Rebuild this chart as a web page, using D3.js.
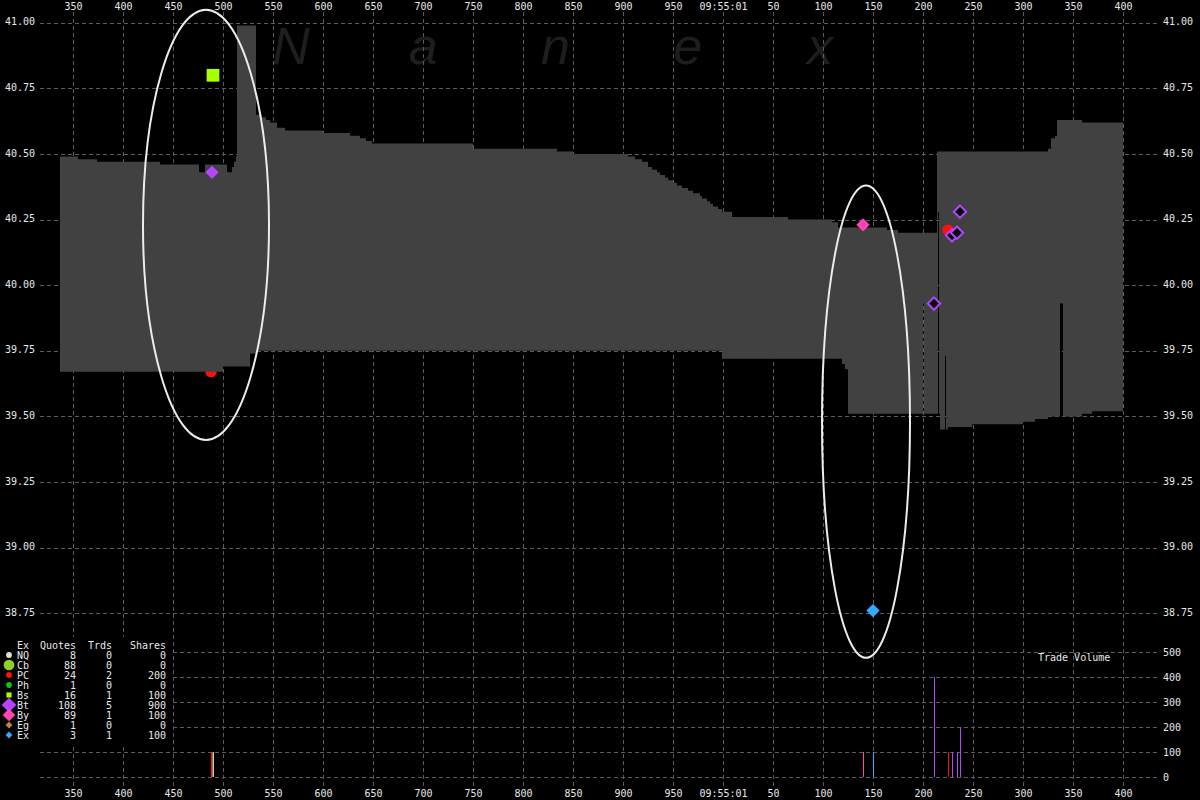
<!DOCTYPE html>
<html><head><meta charset="utf-8">
<script src="https://cdn.jsdelivr.net/npm/d3@7"></script>
<style>html,body{margin:0;padding:0;background:#000;}svg{display:block;}</style>
</head><body>
<svg id="chart" width="1200" height="800"></svg>
<script>
// ---- data (times are ms after 09:55:00.000) ----
const quoteT   = [337,355,374,437,476,482,500,504,509,511,513,514,527,533,534,539,543,547,554,562,600,627,637,643,649,750,834,850,905,912,919,925,929,934,937,942,945,950,954,959,965,970,977,979,984,987,990,995,999,1009,1065,1109,1115,1119,1122,1125,1164,1175,1200,1201,1214,1215,1216,1217,1222,1223,1225,1249,1300,1312,1325,1328,1332,1334,1337,1340,1359,1369,1400];
const quoteBid = [39.67,39.67,39.67,39.67,39.67,39.67,39.69,39.69,39.69,39.69,39.69,39.69,39.74,39.74,39.75,39.75,39.75,39.75,39.75,39.75,39.75,39.75,39.75,39.75,39.75,39.75,39.75,39.75,39.75,39.75,39.75,39.75,39.75,39.75,39.75,39.75,39.75,39.75,39.75,39.75,39.75,39.75,39.75,39.75,39.75,39.75,39.75,39.75,39.72,39.72,39.72,39.72,39.72,39.70,39.68,39.51,39.51,39.51,39.93,39.51,39.51,40.28,39.51,39.45,39.73,39.45,39.46,39.47,39.48,39.49,39.50,39.50,39.50,39.50,39.93,39.50,39.51,39.52,39.52];
const quoteAsk = [40.49,40.48,40.47,40.46,40.43,40.46,40.46,40.43,40.45,40.47,40.49,40.99,40.99,40.65,40.65,40.64,40.63,40.62,40.60,40.59,40.58,40.57,40.56,40.55,40.54,40.52,40.51,40.50,40.49,40.48,40.47,40.45,40.44,40.43,40.42,40.41,40.40,40.39,40.38,40.37,40.36,40.35,40.34,40.33,40.32,40.31,40.30,40.29,40.28,40.26,40.25,40.24,40.22,40.22,40.22,40.22,40.21,40.20,40.20,40.20,40.51,40.51,40.51,40.51,40.51,40.51,40.51,40.51,40.51,40.51,40.52,40.56,40.57,40.63,40.63,40.63,40.62,40.62,40.62];

const tradeEx    = ["PC","Bt","Bs","By","Ex","Bt","PC","Bt","Bt","Bt"];
const tradeT     = [488,489,490,1140,1150,1211,1225,1229,1234,1237];
const tradePrice = [39.67,40.43,40.80,40.23,38.76,39.93,40.21,40.19,40.20,40.28];
const tradeSize  = [100,100,100,100,100,400,100,100,100,200];
const tradeCond  = ["","","","","","ISO","","ISO","ISO","ISO"];

const legendEx     = ["NQ","Cb","PC","Ph","Bs","Bt","By","Eg","Ex"];
const legendQuotes = [8,88,24,1,16,108,89,1,3];
const legendTrds   = [0,0,2,0,1,5,1,0,1];
const legendShares = [0,0,200,0,100,900,100,0,100];

const timeTicks   = d3.range(350, 1401, 50);
const priceTicks  = [41.00,40.75,40.50,40.25,40.00,39.75,39.50,39.25,39.00,38.75];
const volumeTicks = [0,100,200,300,400,500];

// annotation ellipses (time centre, half width in ms, top/bottom price)
const ringT      = [483, 1143];
const ringHalfMs = [63, 44];
const ringTop    = [41.05, 40.38];
const ringBottom = [39.41, 38.58];

const watermark = "Nanex";

// ---- styles ----
const exColor = {NQ:"#e0e0e0",Cb:"#90d020",PC:"#ff1010",Ph:"#10c010",Bs:"#a8ff00",Bt:"#b444ff",By:"#ff44b4",Eg:"#c08a30",Ex:"#33aaff"};
const exShape = {NQ:"circle",Cb:"circle",PC:"circle",Ph:"circle",Bs:"square",Bt:"diamond",By:"diamond",Eg:"diamond",Ex:"diamond"};
const FONT = "'DejaVu Sans Mono', monospace";
const TXT = "#e8e8e8";
const GRID = "#5c5c5c";

function markerPath(shape, s){
  const p = d3.path();
  if(shape==="circle"){ const r=s*0.85; p.arc(0,0,r,0,Math.PI*2); }
  else if(shape==="square"){ const h=s*0.95; p.rect(-h,-h,2*h,2*h); }
  else { p.moveTo(0,-s); p.lineTo(s,0); p.lineTo(0,s); p.lineTo(-s,0); p.closePath(); }
  return p.toString();
}

const svg = d3.select("#chart");
svg.append("rect").attr("width",1200).attr("height",800).attr("fill","#000");

const x  = d3.scaleLinear().domain([317,1437]).range([40,1160]);
const y  = d3.scaleLinear().domain([38.75,41]).range([613.2,22.8]);
const yv = d3.scaleLinear().domain([0,500]).range([777,652]);

// watermark
const wm = d3.scalePoint().domain(d3.range(watermark.length)).range([291,820]);
svg.append("g").selectAll("text").data(watermark.split("")).join("text")
  .attr("x",(d,i)=>wm(i)).attr("y",64).attr("text-anchor","middle")
  .attr("font-family","'Liberation Sans', Arial, sans-serif").attr("font-style","italic")
  .attr("font-size",52).attr("fill","#1e1e1e").text(d=>d);

// gridlines
const grid = svg.append("g").attr("stroke",GRID).attr("stroke-width",1).attr("stroke-dasharray","4,3");
grid.selectAll("line.h").data(priceTicks).join("line").attr("class","h")
  .attr("x1",40).attr("x2",1160).attr("y1",d=>Math.round(y(d))+0.5).attr("y2",d=>Math.round(y(d))+0.5);
grid.selectAll("line.v").data(volumeTicks).join("line").attr("class","v")
  .attr("x1",40).attr("x2",1160).attr("y1",d=>Math.round(yv(d))+0.5).attr("y2",d=>Math.round(yv(d))+0.5);
grid.selectAll("line.t").data(timeTicks).join("line").attr("class","t")
  .attr("x1",d=>Math.round(x(d))+0.5).attr("x2",d=>Math.round(x(d))+0.5).attr("y1",12).attr("y2",786);

// quotes
const quotes = quoteT.map((t,i)=>({t, bid:quoteBid[i], ask:quoteAsk[i]}));
const trades = tradeT.map((t,i)=>({t, ex:tradeEx[i], price:tradePrice[i], size:tradeSize[i], cond:tradeCond[i]}));
const bis = d3.bisector(d=>d.t).right;
const bidAt = t => quotes[Math.max(0,bis(quotes,t)-1)].bid;
const behind = trades.filter(d=>d.price<=bidAt(d.t));
const front  = trades.filter(d=>d.price> bidAt(d.t));

function drawTrades(g, data){
  g.selectAll("path").data(data).join("path")
    .attr("transform",d=>`translate(${x(d.t)},${y(d.price)})`)
    .attr("d",d=>markerPath(exShape[d.ex], d.cond==="ISO"?6.2:6.7))
    .attr("fill",d=>d.cond==="ISO"?"#000":exColor[d.ex])
    .attr("stroke",d=>d.cond==="ISO"?exColor[d.ex]:"none")
    .attr("stroke-width",2);
}
drawTrades(svg.append("g"), behind);

const area = d3.area().x(d=>x(d.t)).y0(d=>y(d.bid)).y1(d=>y(d.ask)).curve(d3.curveStepAfter);
svg.append("path").datum(quotes).attr("d",area).attr("fill","#414141");

// ellipses
svg.append("g").selectAll("ellipse").data(ringT).join("ellipse")
  .attr("cx",d=>x(d)).attr("rx",(d,i)=>x(d+ringHalfMs[i])-x(d))
  .attr("cy",(d,i)=>(y(ringTop[i])+y(ringBottom[i]))/2)
  .attr("ry",(d,i)=>(y(ringBottom[i])-y(ringTop[i]))/2)
  .attr("fill","none").attr("stroke","#ececec").attr("stroke-width",2);

drawTrades(svg.append("g"), front);

// volume bars
svg.append("g").selectAll("rect").data(trades).join("rect")
  .attr("x",d=>Math.round(x(d.t))).attr("width",1)
  .attr("y",d=>yv(d.size)).attr("height",d=>yv(0)-yv(d.size))
  .attr("fill",d=>exColor[d.ex]);

// axes
const fmtT = d => d===1000 ? "09:55:01" : String(d%1000);
function styleAxis(g){
  g.select(".domain").remove();
  g.selectAll("text").attr("fill",TXT).attr("font-family",FONT).attr("font-size",10);
}
svg.append("g").attr("transform","translate(0,10)")
  .call(d3.axisTop(x).tickValues(timeTicks).tickFormat(fmtT).tickSize(0).tickPadding(0)).call(styleAxis);
svg.append("g").attr("transform","translate(0,786)")
  .call(d3.axisBottom(x).tickValues(timeTicks).tickFormat(fmtT).tickSize(0).tickPadding(4)).call(styleAxis);
svg.append("g").attr("transform","translate(40,0)")
  .call(d3.axisLeft(y).tickValues(priceTicks).tickFormat(d3.format(".2f")).tickSize(0).tickPadding(5)).call(styleAxis)
  .selectAll("text").attr("dy","0.2em");
svg.append("g").attr("transform","translate(1160,0)")
  .call(d3.axisRight(y).tickValues(priceTicks).tickFormat(d3.format(".2f")).tickSize(0).tickPadding(3)).call(styleAxis)
  .selectAll("text").attr("dy","0.2em");
svg.append("g").attr("transform","translate(1160,0)")
  .call(d3.axisRight(yv).tickValues(volumeTicks).tickSize(0).tickPadding(3)).call(styleAxis)
  .selectAll("text").attr("dy","0.3em");

svg.append("text").attr("x",1038).attr("y",661).attr("fill",TXT)
  .attr("font-family",FONT).attr("font-size",10).text("Trade Volume");

// legend
const lg = svg.append("g");
lg.append("rect").attr("x",0).attr("y",637).attr("width",172).attr("height",108).attr("fill","#000");
const rowY = d3.scalePoint().domain(d3.range(-1, legendEx.length)).range([645,735]);
const hdr = [["Ex",17,"start"],["Quotes",76,"end"],["Trds",112,"end"],["Shares",166,"end"]];
lg.selectAll("text.h").data(hdr).join("text").attr("class","h")
  .attr("x",d=>d[1]).attr("y",rowY(-1)+3.5).attr("text-anchor",d=>d[2])
  .attr("fill",TXT).attr("font-family",FONT).attr("font-size",10).text(d=>d[0]);
const sz = d3.scaleLinear().domain([30,110]).range([3.4,7.4]).clamp(true);
const rows = lg.selectAll("g.row").data(legendEx).join("g").attr("class","row")
  .attr("transform",(d,i)=>`translate(0,${rowY(i)})`);
rows.append("path").attr("transform","translate(9,0)")
  .attr("d",(d,i)=>markerPath(exShape[d], exShape[d]==="square"? sz(legendQuotes[i])*0.8 : sz(legendQuotes[i])))
  .attr("fill",d=>exColor[d]);
const cols = [[d=>d,17,"start"],[(d,i)=>legendQuotes[i],76,"end"],[(d,i)=>legendTrds[i],112,"end"],[(d,i)=>legendShares[i],166,"end"]];
cols.forEach(c=>{
  rows.append("text").attr("x",c[1]).attr("y",3.5).attr("text-anchor",c[2])
    .attr("fill",TXT).attr("font-family",FONT).attr("font-size",10).text(c[0]);
});
</script>
</body></html>
